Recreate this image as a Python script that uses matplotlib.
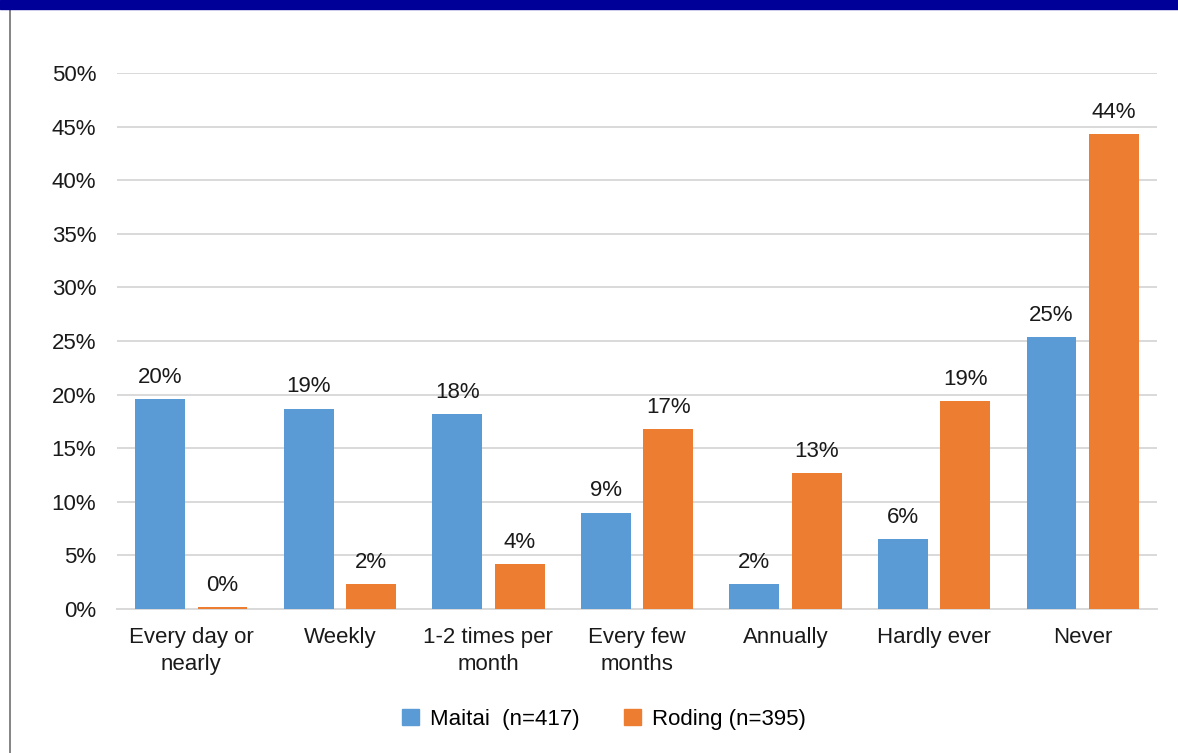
import matplotlib.pyplot as plt
import numpy as np
from matplotlib.patches import Rectangle
from matplotlib.lines import Line2D

plt.rcParams["font.family"] = ["Liberation Sans", "DejaVu Sans"]

categories = ["Every day or\nnearly", "Weekly", "1-2 times per\nmonth", "Every few\nmonths",
              "Annually", "Hardly ever", "Never"]
maitai = [19.6, 18.7, 18.2, 9.0, 2.3, 6.5, 25.4]
roding = [0.2, 2.3, 4.2, 16.8, 12.7, 19.4, 44.3]
maitai_labels = ["20%", "19%", "18%", "9%", "2%", "6%", "25%"]
roding_labels = ["0%", "2%", "4%", "17%", "13%", "19%", "44%"]
series_names = ["Maitai  (n=417)", "Roding (n=395)"]

BLUE = "#5b9bd5"
ORANGE = "#ed7d31"
FS = 16

fig = plt.figure(figsize=(11.78, 7.53), dpi=100)
ax = fig.add_axes([117 / 1178, 1 - 609 / 753, 1040 / 1178, 536 / 753])

x = np.arange(len(categories))
w = 0.336
off = 0.21
b1 = ax.bar(x - off, maitai, w, color=BLUE, zorder=3)
b2 = ax.bar(x + off, roding, w, color=ORANGE, zorder=3)

for bars, labels in ((b1, maitai_labels), (b2, roding_labels)):
    for rect, lab in zip(bars, labels):
        ax.annotate(lab, (rect.get_x() + rect.get_width() / 2, rect.get_height()),
                    xytext=(0, 8), textcoords="offset points", ha="center", va="bottom",
                    fontsize=FS, color="#1a1a1a")

ax.set_xlim(-0.5, len(categories) - 0.5)
ax.set_ylim(0, 50)
ax.set_yticks(np.arange(0, 51, 5))
ax.set_yticklabels([f"{v}%" for v in range(0, 51, 5)])
ax.set_xticks(x)
ax.set_xticklabels(categories, linespacing=1.4)
ax.tick_params(axis="both", length=0, labelsize=FS, colors="#1a1a1a")
ax.tick_params(axis="y", pad=15)
ax.tick_params(axis="x", pad=13)
ax.grid(axis="y", color="#d9d9d9", linewidth=1.4, zorder=0)
for s in ["top", "right", "left"]:
    ax.spines[s].set_visible(False)
ax.spines["bottom"].set_color("#d9d9d9")
ax.spines["bottom"].set_linewidth(1.4)

handles = [Rectangle((0, 0), 1, 1, color=BLUE), Rectangle((0, 0), 1, 1, color=ORANGE)]
fig.legend(handles, series_names, loc="center", bbox_to_anchor=(604 / 1178, 1 - 719 / 753),
           ncol=2, frameon=False, fontsize=FS, handlelength=0.75, handleheight=0.75,
           columnspacing=2.0, handletextpad=0.5)

# header band and left frame line
fig.add_artist(Rectangle((0, 1 - 9 / 753), 1, 9 / 753, transform=fig.transFigure,
                         color="#000099", zorder=5))
fig.add_artist(Line2D([10 / 1178, 10 / 1178], [0, 1 - 9 / 753], transform=fig.transFigure,
                      color="#707070", linewidth=1.2))

fig.savefig("out.png", dpi=100)
